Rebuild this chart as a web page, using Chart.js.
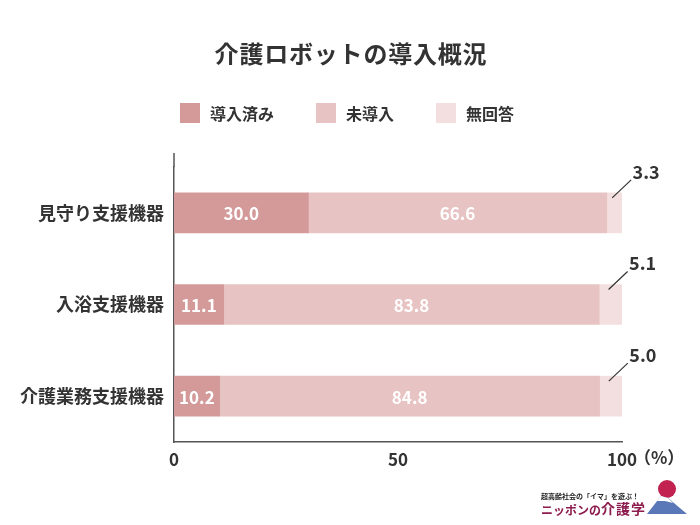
<!DOCTYPE html>
<html><head><meta charset="utf-8">
<script src="https://cdn.jsdelivr.net/npm/chart.js@4"></script>
<style>html,body{margin:0;padding:0;background:#fff}#wrap{width:700px;height:525px;position:relative}</style>
</head><body><div id="wrap"><canvas id="c" width="700" height="525"></canvas></div>
<script>
const categories = ['見守り支援機器', '入浴支援機器', '介護業務支援機器'];
const introduced = [30.0, 11.1, 10.2];
const notIntroduced = [66.6, 83.8, 84.8];
const noAnswer = [3.3, 5.1, 5.0];
const seriesNames = ['導入済み', '未導入', '無回答'];
const xTickValues = [0, 50, 100];
const titleText = '介護ロボットの導入概況';
const unitText = '（%）';

const colors = ['#d49a9a', '#e8c3c3', '#f3dfdf'];
const FONT = '"Noto Sans CJK JP", "Noto Sans", sans-serif';
const dark = '#333333';

const overlay = {
  id: 'overlay',
  afterDraw(chart) {
    const ctx = chart.ctx;
    const ca = chart.chartArea;
    ctx.save();
    // title
    ctx.fillStyle = dark;
    ctx.font = 'bold 24px ' + FONT;
    ctx.textAlign = 'center';
    ctx.textBaseline = 'middle';
    ctx.letterSpacing = '0.8px';
    ctx.fillText(titleText, 351, 54);
    ctx.letterSpacing = '0px';
    // legend
    const lx = [180, 316, 436];
    ctx.font = 'bold 16px ' + FONT;
    ctx.textAlign = 'left';
    seriesNames.forEach((n, i) => {
      ctx.fillStyle = colors[i];
      ctx.fillRect(lx[i], 103, 20, 20);
      ctx.fillStyle = dark;
      ctx.fillText(n, lx[i] + 30, 114);
    });
    // y axis extension
    ctx.strokeStyle = '#555';
    ctx.lineWidth = 1.5;
    ctx.beginPath();
    ctx.moveTo(ca.left, 153);
    ctx.lineTo(ca.left, ca.top);
    ctx.stroke();
    // unit
    ctx.fillStyle = dark;
    ctx.font = 'bold 17px ' + FONT;
    ctx.textAlign = 'left';
    ctx.fillText(unitText, 634, 458);
    // data labels
    chart.data.datasets.forEach((ds, di) => {
      const meta = chart.getDatasetMeta(di);
      meta.data.forEach((el, i) => {
        const p = el.getProps(['x', 'y', 'base', 'height'], true);
        const v = ds.data[i];
        const txt = v.toFixed(1);
        if (di < 2) {
          ctx.fillStyle = '#ffffff';
          ctx.font = 'bold 17px ' + FONT;
          ctx.textAlign = 'center';
          ctx.fillText(txt, (p.x + p.base) / 2, p.y + 1);
        } else {
          const top = p.y - p.height / 2;
          const sx = (p.x + p.base) / 2 - 2;
          const sy = top + 5;
          ctx.strokeStyle = '#333';
          ctx.lineWidth = 1.2;
          ctx.beginPath();
          ctx.moveTo(sx, sy);
          ctx.lineTo(sx + 19, sy - 18);
          ctx.stroke();
          ctx.fillStyle = dark;
          ctx.font = 'bold 18px ' + FONT;
          ctx.textAlign = 'center';
          ctx.fillText(txt, sx + 34, sy - 26);
        }
      });
    });
    // logo
    ctx.textAlign = 'left';
    ctx.fillStyle = '#222';
    ctx.font = 'bold 7px ' + FONT;
    ctx.fillText('超高齢社会の「イマ」を遊ぶ！', 541, 496);
    ctx.fillStyle = '#8c1c4e';
    ctx.font = 'bold 12px ' + FONT;
    ctx.fillText('ニッポンの', 541, 510);
    ctx.font = 'bold 14px ' + FONT;
    ctx.letterSpacing = '1px';
    ctx.fillText('介護学', 601, 509);
    ctx.letterSpacing = '0px';
    ctx.fillStyle = '#c1224f';
    ctx.beginPath();
    ctx.arc(667, 489, 9, 0, Math.PI * 2);
    ctx.fill();
    ctx.fillStyle = '#5a78b8';
    ctx.beginPath();
    ctx.moveTo(647, 514);
    ctx.lineTo(661, 496);
    ctx.lineTo(668, 498);
    ctx.lineTo(687, 514);
    ctx.closePath();
    ctx.fill();
    ctx.fillStyle = '#fff';
    ctx.beginPath();
    ctx.moveTo(657, 501);
    ctx.lineTo(661, 496);
    ctx.lineTo(668, 498);
    ctx.lineTo(673, 503);
    ctx.lineTo(665, 501);
    ctx.closePath();
    ctx.fill();
    ctx.restore();
  }
};

new Chart(document.getElementById('c'), {
  type: 'bar',
  data: {
    labels: categories,
    datasets: [
      { label: seriesNames[0], data: introduced, backgroundColor: colors[0] },
      { label: seriesNames[1], data: notIntroduced, backgroundColor: colors[1] },
      { label: seriesNames[2], data: noAnswer, backgroundColor: colors[2] }
    ]
  },
  options: {
    indexAxis: 'y',
    responsive: false,
    animation: false,
    layout: { padding: { top: 167, left: 0, right: 78, bottom: 0 } },
    datasets: { bar: { barThickness: 40, borderWidth: 0 } },
    plugins: { legend: { display: false }, title: { display: false }, tooltip: { enabled: false } },
    scales: {
      x: {
        stacked: true,
        min: 0, max: 100,
        afterBuildTicks(s) { s.ticks = xTickValues.map(v => ({ value: v })); },
        afterFit(s) { s.height = 83; },
        grid: { display: false, drawTicks: false },
        border: { color: '#555', width: 1.5 },
        ticks: { padding: 7, color: dark, font: { family: FONT, size: 17, weight: 'bold' }, maxRotation: 0 }
      },
      y: {
        stacked: true,
        afterFit(s) { s.width = 174; },
        grid: { display: false, drawTicks: false },
        border: { color: '#555', width: 1.5 },
        ticks: { padding: 10, color: dark, font: { family: FONT, size: 18, weight: 'bold' } }
      }
    }
  },
  plugins: [overlay]
});
</script></body></html>
